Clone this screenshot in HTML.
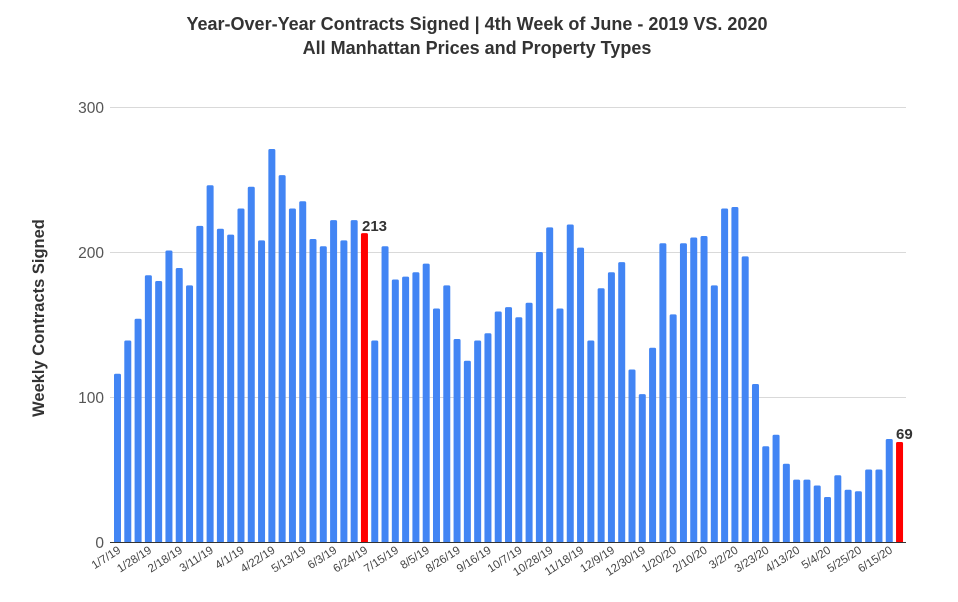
<!DOCTYPE html>
<html><head><meta charset="utf-8"><style>
html,body{margin:0;padding:0;background:#fff;}
svg{display:block;font-family:"Liberation Sans",sans-serif;}
</style></head><body>
<svg id="c" width="958" height="602" viewBox="0 0 958 602" xmlns="http://www.w3.org/2000/svg">
<rect width="958" height="602" fill="#fff"/>
<text x="477" y="30" text-anchor="middle" font-size="18" font-weight="bold" fill="#333">Year-Over-Year Contracts Signed | 4th Week of June - 2019 VS. 2020</text>
<text x="477" y="54" text-anchor="middle" font-size="18" font-weight="bold" fill="#333">All Manhattan Prices and Property Types</text>
<text transform="translate(44,318) rotate(-90)" text-anchor="middle" font-size="16.5" font-weight="bold" fill="#333">Weekly Contracts Signed</text>
<g stroke="#d9d9d9" stroke-width="1">
<line x1="110" y1="107.5" x2="906" y2="107.5"/>
<line x1="110" y1="252.5" x2="906" y2="252.5"/>
<line x1="110" y1="397.5" x2="906" y2="397.5"/>
</g>
<g font-size="15.5" fill="#555" text-anchor="end">
<text x="104" y="113">300</text>
<text x="104" y="258">200</text>
<text x="104" y="403">100</text>
<text x="104" y="548">0</text>
</g>
<g id="bars"></g>
<line x1="110" y1="542.5" x2="906" y2="542.5" stroke="#333" stroke-width="1"/>
<g id="labels" font-size="11.5" fill="#444"></g>
<text x="362" y="231" font-size="15" font-weight="bold" fill="#333">213</text>
<text x="896" y="439" font-size="15" font-weight="bold" fill="#333">69</text>
</svg>
<script>
var v=[116,139,154,184,180,201,189,177,218,246,216,212,230,245,208,271,253,230,235,209,204,222,208,222,213,
139,204,181,183,186,192,161,177,140,125,139,144,159,162,155,165,200,217,161,219,203,139,175,186,193,119,102,134,206,157,206,210,211,177,230,231,197,109,66,74,54,43,43,39,31,46,36,35,50,50,71,69];
var lab=["1/7/19","1/28/19","2/18/19","3/11/19","4/1/19","4/22/19","5/13/19","6/3/19","6/24/19","7/15/19","8/5/19","8/26/19","9/16/19","10/7/19","10/28/19","11/18/19","12/9/19","12/30/19","1/20/20","2/10/20","3/2/20","3/23/20","4/13/20","5/4/20","5/25/20","6/15/20"];
var ns="http://www.w3.org/2000/svg",b=document.getElementById("bars"),L=document.getElementById("labels");
var x0=117.5,dx=10.29;
v.forEach(function(val,i){var cx=x0+i*dx,h=val*1.45;var r=document.createElementNS(ns,"rect");
r.setAttribute("x",cx-3.5);r.setAttribute("y",542-h);r.setAttribute("width",7);r.setAttribute("height",h+1);
r.setAttribute("rx",1.5);r.setAttribute("fill",(i==24||i==76)?"#ff0000":"#4285f4");b.appendChild(r);});
lab.forEach(function(t,k){var cx=x0+k*3*dx;var e=document.createElementNS(ns,"text");
e.setAttribute("text-anchor","end");e.setAttribute("transform","translate("+(cx+4)+",552) rotate(-33)");
e.textContent=t;L.appendChild(e);});
</script>
</body></html>
